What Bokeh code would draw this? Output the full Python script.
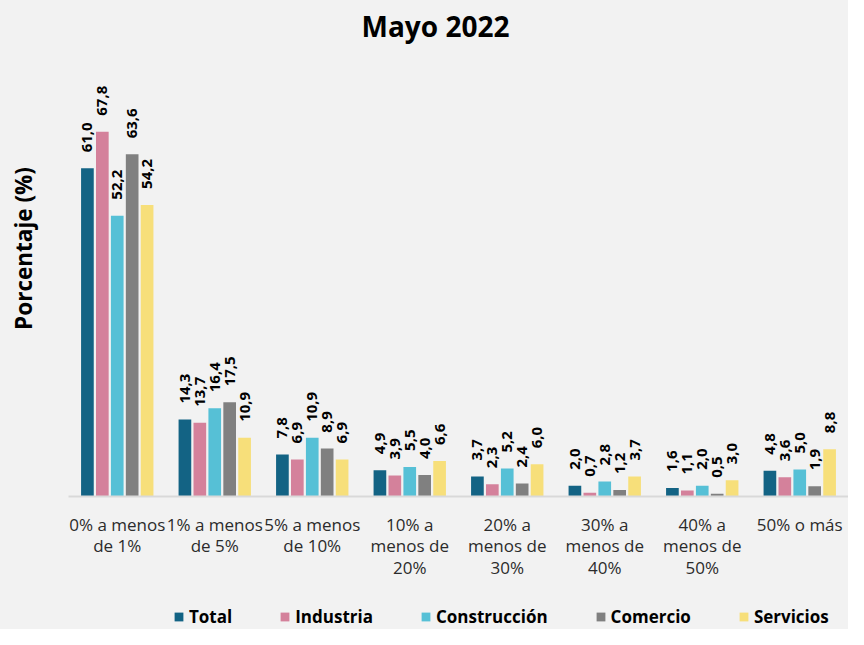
from math import pi
from bokeh.plotting import figure
from bokeh.layouts import column
from bokeh.models import ColumnDataSource, LabelSet, Legend, LegendItem, Range1d, Label
from bokeh.core.properties import value
from bokeh.transform import dodge
from bokeh.embed import file_html
from bokeh.resources import INLINE

title_text = "Mayo 2022"
y_label = "Porcentaje (%)"
categories = ["0% a menos\nde 1%", "1% a menos\nde 5%", "5% a menos\nde 10%",
              "10% a\nmenos de\n20%", "20% a\nmenos de\n30%", "30% a\nmenos de\n40%",
              "40% a\nmenos de\n50%", "50% o más"]
series_names = ["Total", "Industria", "Construcción", "Comercio", "Servicios"]
total = [61.0, 14.3, 7.8, 4.9, 3.7, 2.0, 1.6, 4.8]
industria = [67.8, 13.7, 6.9, 3.9, 2.3, 0.7, 1.1, 3.6]
construccion = [52.2, 16.4, 10.9, 5.5, 5.2, 2.8, 2.0, 5.0]
comercio = [63.6, 17.5, 8.9, 4.0, 2.4, 1.2, 0.5, 1.9]
servicios = [54.2, 10.9, 6.9, 6.6, 6.0, 3.7, 3.0, 8.8]
colors = ["#136384", "#d4819b", "#56c0d6", "#808080", "#f7df7a"]

series = [total, industria, construccion, comercio, servicios]
keys = ["s0", "s1", "s2", "s3", "s4"]
data = {"cat": categories}
for k, s in zip(keys, series):
    data[k] = s
    data[k + "_lbl"] = [f"{v:.1f}".replace(".", ",") for v in s]
source = ColumnDataSource(data)

BG = "#f2f2f2"
W = 848
p = figure(x_range=categories, y_range=Range1d(0, 92.2), width=W, height=603,
           output_backend="svg", toolbar_location=None,
           background_fill_color=BG, border_fill_color=BG,
           min_border_left=68, min_border_right=0, min_border_top=0, min_border_bottom=107)
p.outline_line_color = None
p.grid.grid_line_color = None

offsets = [-0.306, -0.153, 0.0, 0.153, 0.306]
for k, off, c in zip(keys, offsets, colors):
    p.vbar(x=dodge("cat", off, range=p.x_range), top=k, width=0.13,
           source=source, fill_color=c, line_color=None)
    lbl = LabelSet(x=dodge("cat", off, range=p.x_range), y=k, text=k + "_lbl",
                   source=source, angle=pi / 2, text_align="left", text_baseline="middle",
                   y_offset=16, text_font=value("Open Sans"), text_font_size=value("15px"),
                   text_font_style=value("bold"), text_color="#000000")
    p.add_layout(lbl)

p.add_layout(Label(x=367, y=471, x_units="screen", y_units="screen", text=title_text,
                   text_align="center", text_baseline="middle", text_font="Open Sans",
                   text_font_size="28px", text_font_style="bold", text_color="#000000"))

xa = p.xaxis[0]
xa.axis_line_color = "#d9d9d9"
xa.axis_line_width = 2
xa.major_tick_line_color = None
xa.minor_tick_line_color = None
xa.major_label_standoff = 10
xa.major_label_text_font = "Open Sans"
xa.major_label_text_font_size = "17px"
xa.major_label_text_color = "#2b2b2b"
xa.major_label_text_line_height = 0.95

ya = p.yaxis[0]
ya.axis_line_color = None
ya.major_tick_line_color = None
ya.minor_tick_line_color = None
ya.major_label_text_color = None
ya.major_label_text_font_size = "1px"
ya.major_label_standoff = 0
ya.axis_label = y_label
ya.axis_label_text_font = "Open Sans"
ya.axis_label_text_font_size = "22.5px"
ya.axis_label_text_font_style = "bold"
ya.axis_label_text_color = "#000000"
ya.axis_label_standoff = 24

# legend strip (bars drawn here fall outside its visible y range; only the legend shows)
pl = figure(width=W, height=26, x_range=categories, y_range=Range1d(1000, 1001),
            output_backend="svg", toolbar_location=None,
            x_axis_location=None, y_axis_location=None,
            background_fill_color=BG, border_fill_color=BG,
            min_border_left=0, min_border_right=0, min_border_top=0, min_border_bottom=0)
pl.outline_line_color = None
pl.grid.grid_line_color = None
items = []
for k, c, name in zip(keys, colors, series_names):
    r = pl.vbar(x="cat", top=k, width=0.13, source=source, fill_color=c, line_color=None)
    items.append(LegendItem(label=name, renderers=[r]))
legend = Legend(items=items, orientation="horizontal", location=(105, 1),
                glyph_width=11, glyph_height=11, label_standoff=5, spacing=47,
                label_text_font="Open Sans", label_text_font_size="17px",
                label_text_font_style="bold", label_text_color="#000000",
                background_fill_alpha=0, border_line_color=None, margin=0, padding=0)
pl.add_layout(legend, "center")

layout = column(p, pl, spacing=0)
layout.styles = {"background-color": BG}
open("out.html", "w").write(file_html(layout, INLINE))
